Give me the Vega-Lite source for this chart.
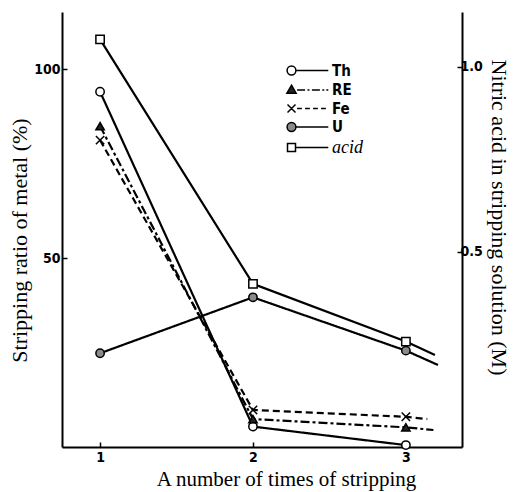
{
  "$schema": "https://vega.github.io/schema/vega-lite/v6.json",
  "width": 400,
  "height": 435,
  "autosize": {"type": "none"},
  "padding": {"left": 62, "top": 12, "right": 52, "bottom": 45},
  "background": "white",
  "config": {
    "view": {"stroke": null},
    "axis": {
      "grid": false,
      "domainColor": "black",
      "domainWidth": 2,
      "tickColor": "black",
      "tickWidth": 1.5,
      "labelColor": "black",
      "titleColor": "black",
      "labelFont": "Liberation Sans Narrow, DejaVu Sans Condensed, sans-serif",
      "labelFontWeight": "bold",
      "labelFontSize": 14,
      "titleFont": "Liberation Serif, serif",
      "titleFontWeight": "normal",
      "titleFontSize": 22
    },
    "legend": {
      "orient": "none",
      "legendX": 222,
      "legendY": 51,
      "padding": 0,
      "symbolSize": 64,
      "labelOffset": 33,
      "rowPadding": 2.5,
      "symbolStrokeWidth": 1.5,
      "symbolOpacity": 1,
      "labelColor": "black"
    }
  },
  "datasets": {
    "d": [
      {"t": 1, "s": "Th", "v": 94.0, "m": true},
      {"t": 2, "s": "Th", "v": 5.4, "m": true},
      {"t": 3, "s": "Th", "v": 0.5, "m": true},
      {"t": 1, "s": "RE", "v": 84.9, "m": true},
      {"t": 2, "s": "RE", "v": 7.4, "m": true},
      {"t": 3, "s": "RE", "v": 5.2, "m": true},
      {"t": 3.18, "s": "RE", "v": 4.5, "m": false},
      {"t": 1, "s": "Fe", "v": 81.2, "m": true},
      {"t": 2, "s": "Fe", "v": 9.8, "m": true},
      {"t": 3, "s": "Fe", "v": 8.0, "m": true},
      {"t": 3.14, "s": "Fe", "v": 7.4, "m": false},
      {"t": 1, "s": "U", "v": 24.8, "m": true},
      {"t": 2, "s": "U", "v": 39.6, "m": true},
      {"t": 3, "s": "U", "v": 25.5, "m": true},
      {"t": 3.21, "s": "U", "v": 21.7, "m": false},
      {"t": 1, "s": "acid", "v": 1.074, "m": true},
      {"t": 2, "s": "acid", "v": 0.413, "m": true},
      {"t": 3, "s": "acid", "v": 0.257, "m": true},
      {"t": 3.19, "s": "acid", "v": 0.221, "m": false}
    ]
  },
  "data": {"name": "d"},
  "layer": [
    {
      "transform": [{"filter": "datum.s !== 'acid'"}],
      "encoding": {
        "x": {
          "field": "t", "type": "quantitative",
          "scale": {"domain": [0.751, 3.367], "nice": false, "zero": false},
          "axis": {"values": [1, 2, 3], "format": "d", "title": "A number of times of stripping", "tickSize": -5, "labelPadding": 8, "titleFontSize": 21, "titlePadding": 4, "titleX": 224}
        },
        "y": {
          "field": "v", "type": "quantitative",
          "scale": {"domain": [0, 115.1], "nice": false, "zero": false},
          "axis": {"orient": "left", "values": [50, 100], "title": "Stripping ratio of metal (%)", "tickSize": -5, "labelPadding": 7, "titlePadding": 2, "titleY": 228}
        }
      },
      "layer": [
        {
          "mark": {"type": "line", "color": "black", "strokeWidth": 2.2},
          "encoding": {
            "strokeDash": {
              "field": "s", "type": "nominal",
              "scale": {"domain": ["Th", "RE", "Fe", "U"], "range": [[1, 0], [9, 3, 3, 3], [7, 4], [1, 0]]},
              "legend": null
            }
          }
        },
        {
          "transform": [{"filter": "datum.m"}],
          "mark": {"type": "point", "filled": true, "stroke": "black", "strokeWidth": 1.5, "size": 70, "opacity": 1},
          "encoding": {
            "shape": {
              "field": "s", "type": "nominal",
              "scale": {"domain": ["Th", "RE", "Fe", "U"], "range": ["circle", "triangle-up", "M-1,-1L1,1M-1,1L1,-1", "circle"]},
              "legend": null
            },
            "fill": {
              "field": "s", "type": "nominal",
              "scale": {"domain": ["Th", "RE", "Fe", "U"], "range": ["white", "#222222", "transparent", "#8a8a8a"]},
              "legend": null
            }
          }
        }
      ]
    },
    {
      "transform": [{"filter": "datum.s === 'acid'"}],
      "encoding": {
        "x": {"field": "t", "type": "quantitative", "scale": {"domain": [0.751, 3.367], "nice": false, "zero": false}},
        "y": {
          "field": "v", "type": "quantitative",
          "scale": {"domain": [-0.028, 1.148], "nice": false, "zero": false},
          "axis": {"orient": "right", "values": [0.5, 1.0], "format": ".1f", "title": "Nitric acid in stripping solution (M)", "tickSize": -5, "labelPadding": 3, "titlePadding": 4, "titleY": 205}
        }
      },
      "layer": [
        {"mark": {"type": "line", "color": "black", "strokeWidth": 2.2}, "encoding": {}},
        {
          "transform": [{"filter": "datum.m"}],
          "mark": {"type": "point", "shape": "square", "filled": true, "fill": "white", "stroke": "black", "strokeWidth": 1.5, "size": 70, "opacity": 1},
          "encoding": {}
        }
      ]
    },
    {
      "transform": [{"filter": "false"}],
      "mark": {"type": "point", "filled": true, "strokeWidth": 1.5, "opacity": 1},
      "encoding": {
        "shape": {
          "field": "s", "type": "nominal",
          "scale": {
            "domain": ["Th", "RE", "Fe", "U", "acid"],
            "range": [
              "M-1.1,0A1.1,1.1,0,1,1,1.1,0A1.1,1.1,0,1,1,-1.1,0ZM1.2,0L9.2,0",
              "M0,-1.2L1.15,0.8L-1.15,0.8ZM1.4,0L3.4,0M4.0,0L4.5,0M5.1,0L7.1,0M7.7,0L8.2,0M8.7,0L9.2,0",
              "M-1,-1L1,1M-1,1L1,-1M1.4,0L2.6,0M3.4,0L4.6,0M5.4,0L6.6,0M7.4,0L8.6,0",
              "M-1.1,0A1.1,1.1,0,1,1,1.1,0A1.1,1.1,0,1,1,-1.1,0ZM1.2,0L9.2,0",
              "M-1,-1L1,-1L1,1L-1,1ZM1.1,0L9.2,0"
            ]
          },
          "legend": {
            "title": null,
            "labelFont": {"expr": "datum.value === 'acid' ? 'Liberation Serif' : 'Liberation Sans Narrow, DejaVu Sans Condensed, sans-serif'"},
            "labelFontStyle": {"expr": "datum.value === 'acid' ? 'italic' : 'normal'"},
            "labelFontWeight": {"expr": "datum.value === 'acid' ? 'normal' : 'bold'"},
            "labelFontSize": {"expr": "datum.value === 'acid' ? 18 : 15"}
          }
        },
        "fill": {
          "field": "s", "type": "nominal",
          "scale": {
            "domain": ["Th", "RE", "Fe", "U", "acid"],
            "range": ["white", "#222222", "white", "#8a8a8a", "white"]
          },
          "legend": {
            "title": null,
            "labelFont": {"expr": "datum.value === 'acid' ? 'Liberation Serif' : 'Liberation Sans Narrow, DejaVu Sans Condensed, sans-serif'"},
            "labelFontStyle": {"expr": "datum.value === 'acid' ? 'italic' : 'normal'"},
            "labelFontWeight": {"expr": "datum.value === 'acid' ? 'normal' : 'bold'"},
            "labelFontSize": {"expr": "datum.value === 'acid' ? 18 : 15"}
          }
        },
        "stroke": {
          "field": "s", "type": "nominal",
          "scale": {
            "domain": ["Th", "RE", "Fe", "U", "acid"],
            "range": ["black", "black", "black", "black", "black"]
          },
          "legend": {
            "title": null,
            "labelFont": {"expr": "datum.value === 'acid' ? 'Liberation Serif' : 'Liberation Sans Narrow, DejaVu Sans Condensed, sans-serif'"},
            "labelFontStyle": {"expr": "datum.value === 'acid' ? 'italic' : 'normal'"},
            "labelFontWeight": {"expr": "datum.value === 'acid' ? 'normal' : 'bold'"},
            "labelFontSize": {"expr": "datum.value === 'acid' ? 18 : 15"}
          }
        }
      }
    }
  ],
  "resolve": {"scale": {"y": "independent", "shape": "independent", "fill": "independent", "stroke": "independent"}}
}
